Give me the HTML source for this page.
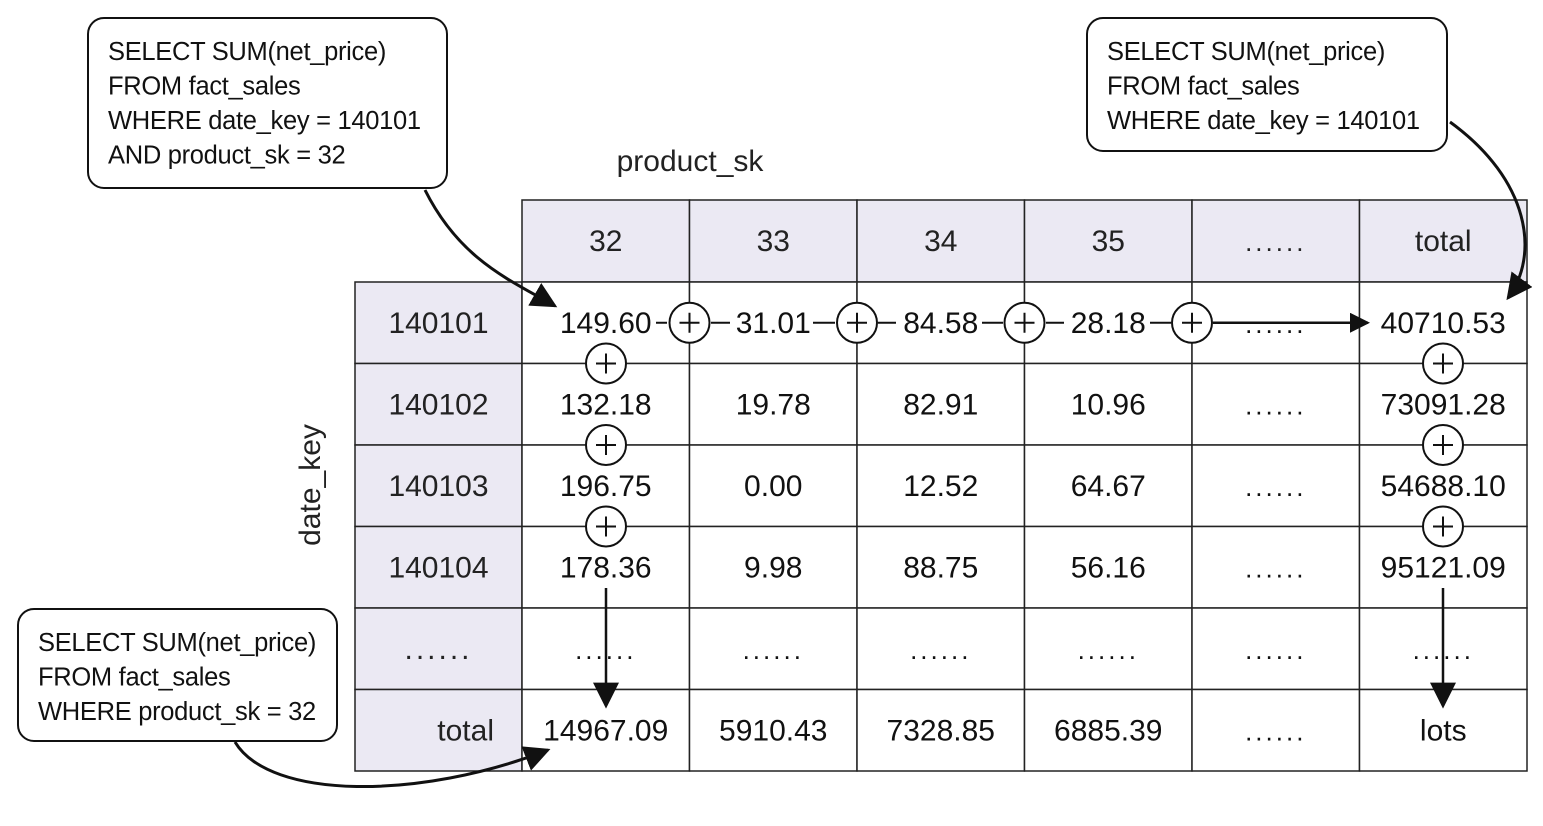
<!DOCTYPE html>
<html><head><meta charset="utf-8"><style>
html,body{margin:0;padding:0;background:#fff}
svg{display:block;font-family:"Liberation Sans",sans-serif}
</style></head><body>
<svg id="c" width="1543" height="826" viewBox="0 0 1543 826">
<defs><marker id="ah" viewBox="0 0 10 10" refX="9" refY="5" markerWidth="20" markerHeight="20" markerUnits="userSpaceOnUse" orient="auto"><path d="M0,0 L10,5 L0,10 Z" fill="#111"/></marker>
<marker id="ah2" viewBox="0 0 10 10" refX="9" refY="5" markerWidth="26" markerHeight="26" markerUnits="userSpaceOnUse" orient="auto"><path d="M0,0 L10,5 L0,10 Z" fill="#111"/></marker></defs>
<g id="tbl"></g>
<g id="ann"></g>
</svg>
<script>
const colHeaders=["32","33","34","35","......","total"];
const rowHeaders=["140101","140102","140103","140104","......","total"];
const cells=[
["149.60","31.01","84.58","28.18","......","40710.53"],
["132.18","19.78","82.91","10.96","......","73091.28"],
["196.75","0.00","12.52","64.67","......","54688.10"],
["178.36","9.98","88.75","56.16","......","95121.09"],
["......","......","......","......","......","......"],
["14967.09","5910.43","7328.85","6885.39","......","lots"]];
const queries=[
{x:88,y:18,w:359,h:170,lines:["SELECT SUM(net_price)","FROM fact_sales","WHERE date_key = 140101","AND product_sk = 32"]},
{x:1087,y:18,w:360,h:133,lines:["SELECT SUM(net_price)","FROM fact_sales","WHERE date_key = 140101"]},
{x:18,y:609,w:319,h:132,lines:["SELECT SUM(net_price)","FROM fact_sales","WHERE product_sk = 32"]}];

const NS="http://www.w3.org/2000/svg";
const tbl=document.getElementById('tbl'),ann=document.getElementById('ann');
function mk(p,tag,a,txt){const e=document.createElementNS(NS,tag);for(const k in a)e.setAttribute(k,a[k]);if(txt!=null)e.textContent=txt;p.appendChild(e);return e;}
const X0=355,XC=522,CW=167.5,Y0=200,YR=282,RH=81.5;
const colX=i=>XC+i*CW, rowY=i=>YR+i*RH;
const fill="#ebe9f3";
colHeaders.forEach((h,i)=>{
 const r=mk(tbl,'rect',{x:colX(i),y:Y0,width:CW,height:YR-Y0,fill:fill,stroke:"#222","stroke-width":1.5});
 
 const t=mk(tbl,'text',{x:colX(i)+CW/2,y:Y0+51,'font-size':h==="......"?26:30,'text-anchor':'middle',fill:"#222",'letter-spacing':h==="......"?3:0},h);
 
});
rowHeaders.forEach((h,j)=>{
 const r=mk(tbl,'rect',{x:X0,y:rowY(j),width:XC-X0,height:RH,fill:fill,stroke:"#222","stroke-width":1.5});
 
 const t=mk(tbl,'text',{x:j===5?494:(X0+XC)/2,y:rowY(j)+51,'font-size':30,'text-anchor':j===5?'end':'middle',fill:"#222",'letter-spacing':h==="......"?3:0},h);
 
 cells[j].forEach((v,i)=>{
  const c=mk(tbl,'rect',{x:colX(i),y:rowY(j),width:CW,height:RH,fill:"#fff",stroke:"#222","stroke-width":1.5});
  
  const tt=mk(tbl,'text',{x:colX(i)+CW/2,y:rowY(j)+51,'font-size':v==="......"?26:30,'text-anchor':'middle',fill:"#111",'letter-spacing':v==="......"?3:0},v);
  
 });
});
const pt=mk(ann,'text',{x:690,y:171,'font-size':30,'text-anchor':'middle',fill:"#222"},"product_sk");

const dt=mk(ann,'text',{x:0,y:0,'font-size':30,'text-anchor':'middle',fill:"#222",transform:"translate(320,485) rotate(-90)"},"date_key");

function plus(cx,cy){const g=mk(ann,'g',{});
 
 mk(g,'circle',{cx:cx,cy:cy,r:20,fill:"#fff",stroke:"#111","stroke-width":2});
 mk(g,'path',{d:`M${cx-10},${cy}H${cx+10}M${cx},${cy-10}V${cy+10}`,stroke:"#111","stroke-width":2});}
const ry=rowY(0)+RH/2;
[[656,667],[711,730],[813,835],[878,896],[982,1003],[1046,1064],[1150,1171]].forEach(s=>{
 const l=mk(ann,'line',{x1:s[0],y1:ry,x2:s[1],y2:ry,stroke:"#111","stroke-width":2});
 });
const ra=mk(ann,'line',{x1:1213,y1:ry,x2:1368,y2:ry,stroke:"#111","stroke-width":2.5,'marker-end':'url(#ah)'});

for(let i=1;i<=4;i++)plus(colX(i),ry);
[606,1443].forEach(x=>{
 for(let j=1;j<=3;j++)plus(x,rowY(j));
 const a=mk(ann,'line',{x1:x,y1:588,x2:x,y2:706,stroke:"#111","stroke-width":2.5,'marker-end':'url(#ah2)'});
 
});
queries.forEach(q=>{
 const g=mk(ann,'g',{});
 mk(g,'rect',{x:q.x,y:q.y,width:q.w,height:q.h,rx:16,fill:"#fff",stroke:"#111","stroke-width":2});
 q.lines.forEach((s,k)=>{const t=mk(g,'text',{x:q.x+20,y:q.y+42+k*34.5,'font-size':25.5,fill:"#111",'letter-spacing':-0.3},s);
  });
});
[["M425,190 C460,260 510,280 555,306"],["M1450,122 C1530,180 1540,255 1508,298"],["M235,742 C270,800 420,800 548,750"]].forEach(d=>{
 const p=mk(ann,'path',{d:d[0],fill:"none",stroke:"#111","stroke-width":3,'marker-end':'url(#ah2)'});
 });
</script>
</body></html>
